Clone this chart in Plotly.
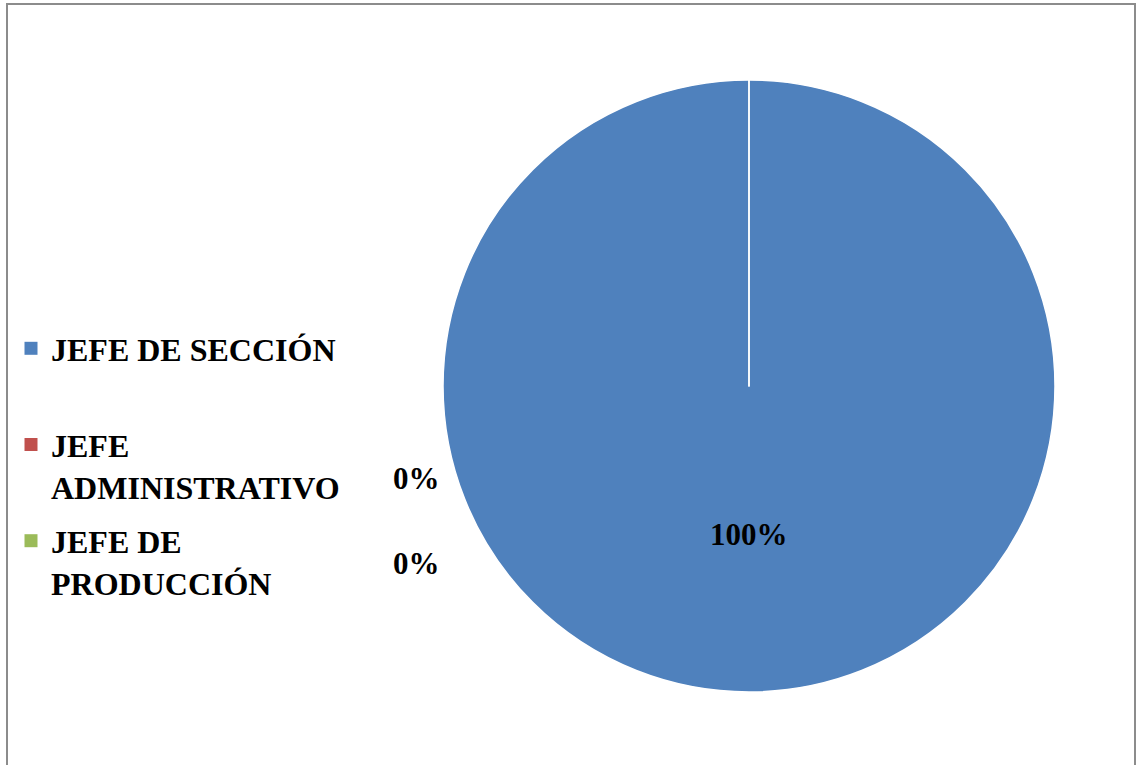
import plotly.graph_objects as go

# Puesto del encuestado
categories = ["JEFE DE SECCIÓN", "JEFE ADMINISTRATIVO", "JEFE DE PRODUCCIÓN"]
legend_labels = ["JEFE DE SECCIÓN<br> ", "JEFE<br>ADMINISTRATIVO", "JEFE DE<br>PRODUCCIÓN"]
values = [100, 0, 0]
colors = ["#4F81BD", "#C0504D", "#9BBB59"]

W, H = 1136, 765
FONT = "Liberation Serif, Times New Roman, serif"
FS = 32

# pie placement (pixels)
cx, cy, r = 749, 386, 306

fig = go.Figure()
fig.add_trace(go.Pie(
    labels=categories,
    values=values,
    marker=dict(colors=colors, line=dict(color="white", width=1.5)),
    sort=False,
    direction="clockwise",
    rotation=0,
    textinfo="none",
    hoverinfo="label+percent",
    showlegend=False,
    domain=dict(x=[(cx - r) / W, (cx + r) / W], y=[(H - cy - r) / H, (H - cy + r) / H]),
))

# legend entries, one group per category so the gap between entries can be set
for name, lab, col in zip(categories, legend_labels, colors):
    fig.add_trace(go.Scatter(
        x=[None], y=[None], mode="markers", name=lab,
        legendgroup=name, showlegend=True,
        marker=dict(symbol="square", size=13, color=col),
        hoverinfo="skip",
    ))

total = sum(values)
pct = [f"{v / total:.0%}" for v in values]

# data labels: main slice inside, empty slices stacked to the left of the pie
label_pos = [(749, 534), (416, 478), (416, 563)]
for text, (lx, ly) in zip(pct, label_pos):
    fig.add_annotation(
        x=lx / W, y=1 - ly / H, xref="paper", yref="paper",
        text=f"<b>{text}</b>", showarrow=False,
        font=dict(family=FONT, size=31, color="black"),
        xanchor="center", yanchor="middle",
    )

# chart area frame
fig.add_shape(type="rect", xref="paper", yref="paper",
              x0=7 / W, x1=1135 / W, y0=-0.02, y1=1 - 4 / H,
              line=dict(color="#8C8C8C", width=2), fillcolor="rgba(0,0,0,0)")

fig.update_layout(
    width=W, height=H,
    margin=dict(l=0, r=0, t=0, b=0),
    paper_bgcolor="white",
    plot_bgcolor="white",
    xaxis=dict(visible=False),
    yaxis=dict(visible=False),
    showlegend=True,
    legend=dict(
        x=11 / W, y=1 - 321 / H, xanchor="left", yanchor="top",
        font=dict(family=FONT, size=FS, color="black", weight="bold"),
        valign="top",
        tracegroupgap=10,
        bgcolor="rgba(0,0,0,0)",
        itemclick=False,
    ),
)

fig.write_html("out.html")
